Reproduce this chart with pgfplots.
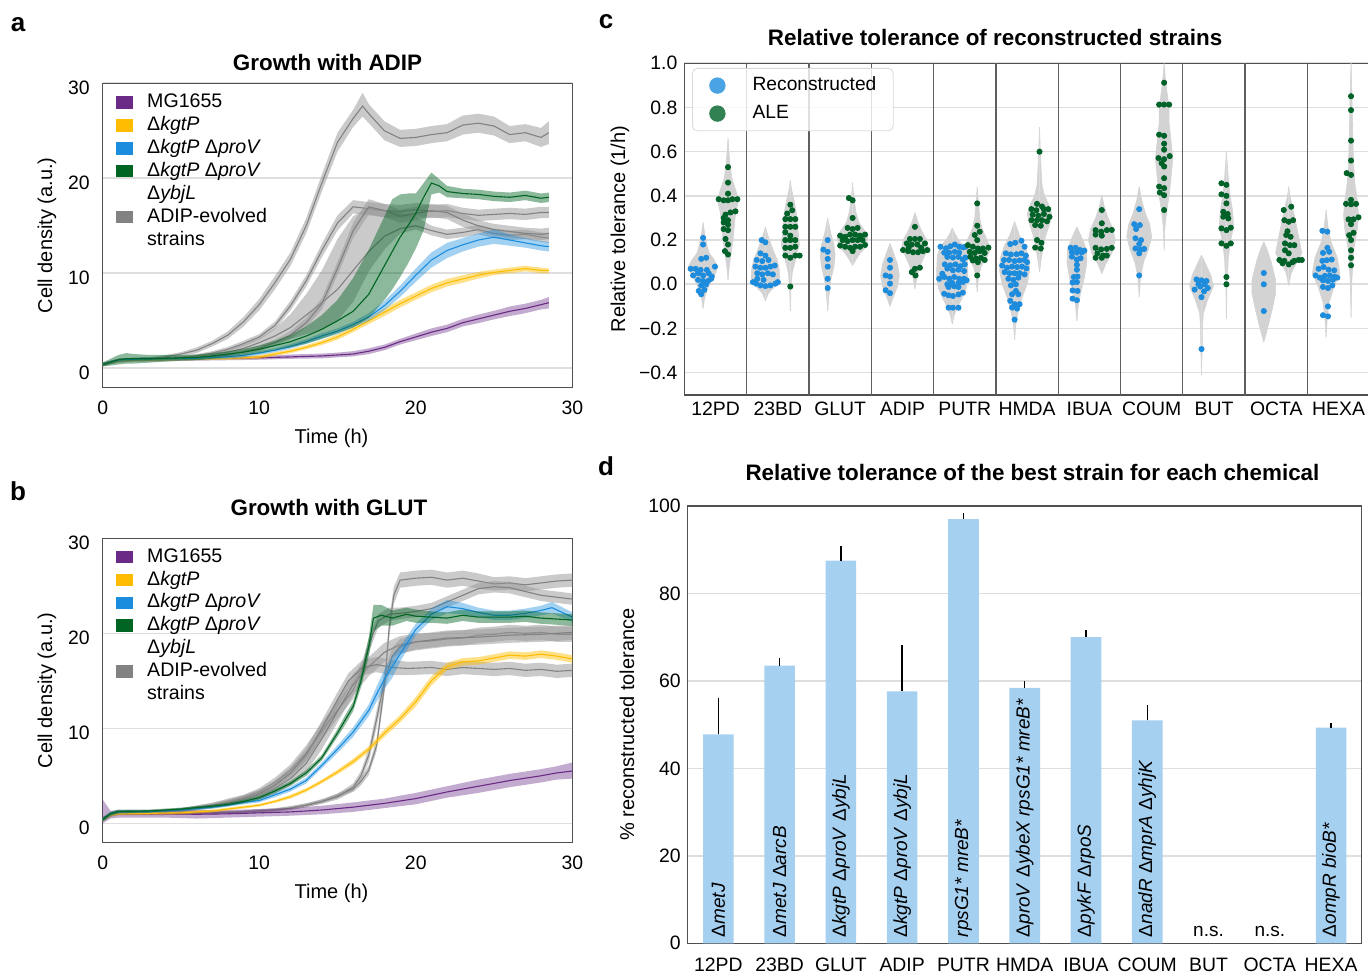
\documentclass[border=0pt]{standalone}
\usepackage{fontspec}
\setmainfont{Liberation Sans}
\usepackage{pgfplots}
\pgfplotsset{compat=1.18}
\usepackage{pgfplotstable}

\definecolor{mgp}{RGB}{106,42,134}
\definecolor{kgy}{RGB}{255,188,0}
\definecolor{kpb}{RGB}{26,141,222}
\definecolor{kpg}{RGB}{0,100,34}
\definecolor{evg}{RGB}{130,130,130}
\definecolor{bandg}{RGB}{150,150,150}
\definecolor{vgray}{RGB}{211,211,211}
\definecolor{dblue}{RGB}{30,140,220}
\definecolor{dgreen}{RGB}{0,98,40}
\definecolor{barblue}{RGB}{165,208,240}
\definecolor{gridc}{RGB}{222,222,222}
\definecolor{framec}{RGB}{80,80,80}
\definecolor{sepc}{RGB}{95,95,95}

% ---------------- panel a data (t, mean, low, high) ----------------
\pgfplotstableread{
t m lo hi
0 0.4 0.2 0.6
1 0.8 0.6 1.0
2 0.9 0.7 1.1
4 0.95 0.75 1.15
6 1.0 0.8 1.2
8 1.05 0.85 1.25
10 1.1 0.9 1.3
12 1.2 1.0 1.45
14 1.3 1.05 1.55
15 1.4 1.15 1.65
16 1.5 1.25 1.8
17 1.8 1.5 2.1
18 2.2 1.9 2.5
19 2.8 2.5 3.1
20 3.3 2.95 3.65
21 3.8 3.4 4.2
22 4.2 3.8 4.6
23 4.8 4.4 5.2
24 5.2 4.75 5.65
25 5.6 5.15 6.05
26 6.0 5.5 6.5
27 6.3 5.8 6.8
28 6.7 6.2 7.2
28.5 6.9 6.3 7.5
}\aMG
\pgfplotstableread{
t m lo hi
0 0.4 0.25 0.55
1 0.8 0.65 0.95
2 0.9 0.75 1.05
4 0.95 0.8 1.1
6 1.0 0.85 1.15
8 1.05 0.9 1.2
9 1.1 0.95 1.25
10 1.2 1.0 1.4
11 1.5 1.3 1.7
12 1.8 1.6 2.0
13 2.2 2.0 2.45
14 2.7 2.45 2.95
15 3.3 3.0 3.6
16 4.1 3.8 4.4
17 5.0 4.65 5.35
18 5.9 5.5 6.3
19 6.8 6.4 7.2
20 7.6 7.2 8.0
21 8.4 8.0 8.8
22 9.0 8.6 9.4
23 9.4 9.0 9.8
24 9.8 9.45 10.15
25 10.1 9.8 10.4
26 10.3 10.0 10.6
27 10.5 10.2 10.8
28 10.3 10.0 10.6
28.5 10.3 10.0 10.5
}\aKG
\pgfplotstableread{
t m lo hi
0 0.4 0.25 0.55
1 0.85 0.7 1.0
2 0.95 0.8 1.1
4 1.0 0.85 1.15
6 1.05 0.9 1.2
8 1.2 1.0 1.4
9 1.35 1.15 1.55
10 1.6 1.4 1.8
11 1.9 1.7 2.1
12 2.3 2.05 2.55
13 2.8 2.55 3.05
14 3.4 3.1 3.7
15 3.9 3.6 4.2
16 4.6 4.3 4.9
17 5.4 5.0 5.8
18 6.6 6.1 7.1
19 8.1 7.5 8.7
20 9.8 9.1 10.5
21 11.4 10.6 12.2
22 12.4 11.6 13.2
23 13.0 12.3 13.7
24 13.5 12.8 14.2
25 13.8 13.1 14.6
26 13.5 12.9 14.1
27 13.2 12.7 13.7
28 12.9 12.4 13.4
28.5 12.8 12.3 13.3
}\aKP
\pgfplotstableread{
t m lo hi
0 0.4 0.2 0.6
1 0.9 0.4 1.4
1.5 1.0 0.5 1.6
2 1.0 0.5 1.5
3 1.0 0.6 1.4
4 1.05 0.7 1.4
5 1.1 0.8 1.4
6 1.15 0.85 1.45
7 1.3 1.0 1.6
8 1.5 1.2 1.8
9 1.7 1.35 2.05
10 2.0 1.6 2.4
11 2.4 1.9 2.9
12 2.8 2.2 3.5
13 3.4 2.6 4.4
14 4.1 3.1 5.6
15 5.0 3.7 7.2
16 6.0 4.3 9.5
17 7.8 5.3 12.5
18 10.8 7.2 16.0
18.5 12.3 8.3 17.8
19 13.8 9.6 18.3
19.5 15.0 11.0 18.4
20 16.3 12.6 18.4
20.5 18.0 14.5 19.5
21 19.5 18.3 20.6
21.5 19.2 18.5 19.9
22 18.6 18.0 19.2
23 18.4 17.9 18.9
24 18.3 17.8 18.8
25 18.1 17.6 18.6
26 18.0 17.5 18.5
27 18.2 17.7 18.7
28 17.9 17.4 18.4
28.5 18.0 17.5 18.5
}\aKPY
\pgfplotstableread{
t m lo hi
0 0.4 0.25 0.55
1 0.85 0.7 1.0
2 0.95 0.8 1.1
3 1.0 0.85 1.15
4 1.2 1.0 1.4
5 1.5 1.3 1.7
6 1.9 1.6 2.2
7 2.6 2.3 2.9
8 3.5 3.1 3.9
9 4.9 4.4 5.4
10 6.7 6.1 7.3
11 9.0 8.3 9.7
12 11.5 10.8 12.2
13 15.0 14.2 15.8
14 19.5 18.6 20.4
15 23.8 22.8 24.8
16 26.3 25.4 27.2
16.6 27.6 26.5 29.0
17 26.8 25.8 27.8
18 25.0 24.0 26.0
19 24.2 23.3 25.1
20 24.3 23.4 25.2
21 24.6 23.7 25.5
22 24.8 23.9 25.7
23 25.6 24.6 26.6
24 25.8 24.8 26.8
25 25.5 24.5 26.5
26 24.6 23.7 25.5
27 24.8 23.9 25.7
28 24.3 23.3 25.3
28.5 24.8 23.6 26.0
}\aGa
\pgfplotstableread{
t m lo hi
0 0.4 0.25 0.55
1 0.85 0.7 1.0
2 0.95 0.8 1.1
4 1.0 0.85 1.15
6 1.3 1.1 1.5
7 1.6 1.4 1.8
8 2.0 1.75 2.25
9 2.6 2.3 2.9
10 3.3 3.0 3.6
11 4.5 4.1 4.9
12 6.6 6.1 7.1
13 9.2 8.6 9.8
14 12.4 11.7 13.1
15 15.3 14.5 16.1
16 17.0 16.3 17.7
17 16.8 16.1 17.5
18 16.6 15.9 17.3
19 16.5 15.8 17.2
20 16.7 16.0 17.4
21 16.5 15.8 17.2
22 16.6 15.9 17.3
23 16.3 15.7 16.9
24 16.1 15.5 16.7
25 16.2 15.6 16.8
26 16.3 15.7 16.9
27 16.2 15.6 16.8
28 16.4 15.8 17.0
28.5 16.4 15.8 17.0
}\aGb
\pgfplotstableread{
t m lo hi
0 0.4 0.25 0.55
1 0.85 0.7 1.0
2 0.95 0.8 1.1
4 1.0 0.85 1.15
6 1.2 1.0 1.4
8 1.7 1.4 2.0
9 2.1 1.7 2.5
10 2.7 2.2 3.2
11 3.4 2.6 4.2
12 4.3 3.1 5.7
13 5.6 3.6 7.8
14 6.9 4.1 10.3
15 8.3 5.0 13.6
16 10.3 7.0 16.0
17 12.3 10.2 17.0
18 13.9 12.5 16.7
19 14.7 14.2 16.4
20 15.0 14.6 16.0
21 14.5 14.0 15.0
22 14.1 13.6 14.6
23 14.3 13.8 14.8
24 14.6 14.1 15.1
25 14.2 13.7 14.7
26 14.0 13.5 14.5
27 14.1 13.6 14.6
28 13.8 13.3 14.3
28.5 13.7 13.2 14.2
}\aGc
\pgfplotstableread{
t m lo hi
0 0.4 0.25 0.55
1 0.85 0.7 1.0
2 0.95 0.8 1.1
4 1.0 0.85 1.15
6 1.1 0.95 1.25
8 1.4 1.2 1.6
10 2.1 1.8 2.4
11 2.7 2.4 3.0
12 3.5 3.1 3.9
13 4.8 4.3 5.3
14 6.8 6.2 7.4
15 10.5 9.8 11.2
16 14.5 13.7 15.3
17 17.0 16.2 17.8
18 16.6 15.9 17.3
19 16.0 15.3 16.7
20 16.3 15.6 17.0
21 16.6 15.9 17.3
22 16.4 15.7 17.1
23 15.6 14.9 16.3
24 15.0 14.4 15.6
25 14.6 14.0 15.2
26 14.4 13.8 15.0
27 14.2 13.6 14.8
28 14.1 13.5 14.7
28.5 14.2 13.6 14.8
}\aGd

% ---------------- panel b data ----------------
\pgfplotstableread{
t m lo hi
0 0.6 0.0 2.5
0.5 0.9 0.5 1.3
1 1.0 0.6 1.4
2 1.0 0.6 1.4
4 1.0 0.6 1.4
6 0.95 0.5 1.4
8 1.0 0.6 1.4
10 1.1 0.7 1.5
12 1.2 0.8 1.6
14 1.4 0.95 1.85
16 1.7 1.2 2.2
18 2.1 1.6 2.6
20 2.6 2.0 3.2
22 3.3 2.7 3.9
24 3.9 3.2 4.6
26 4.5 3.8 5.2
28 5.0 4.3 5.7
29 5.3 4.6 6.0
30 5.5 4.7 6.4
}\bMG
\pgfplotstableread{
t m lo hi
0 0.4 0.2 0.6
0.5 0.9 0.7 1.1
1 1.0 0.85 1.15
3 1.05 0.9 1.2
5 1.1 0.95 1.25
7 1.3 1.15 1.45
8 1.5 1.35 1.65
9 1.7 1.55 1.85
10 1.9 1.75 2.05
11 2.3 2.15 2.45
12 2.8 2.6 3.0
13 3.5 3.3 3.7
14 4.4 4.2 4.6
15 5.4 5.15 5.65
16 6.5 6.2 6.8
17 7.8 7.5 8.1
18 9.5 9.1 9.9
19 11.0 10.6 11.4
20 12.8 12.3 13.3
21 15.0 14.5 15.5
22 16.5 16.1 16.9
23 17.0 16.6 17.4
24 17.1 16.7 17.5
25 17.4 17.0 17.8
26 17.7 17.3 18.1
27 17.6 17.2 18.0
28 17.8 17.4 18.2
29 17.6 17.2 18.0
30 17.3 16.9 17.7
}\bKG
\pgfplotstableread{
t m lo hi
0 0.4 0.2 0.6
0.5 1.0 0.8 1.2
1 1.2 1.0 1.4
3 1.25 1.1 1.4
5 1.4 1.25 1.55
7 1.7 1.55 1.85
8 1.9 1.75 2.05
9 2.2 2.0 2.4
10 2.4 2.2 2.6
11 3.0 2.75 3.25
12 3.6 3.35 3.85
13 4.5 4.2 4.8
14 6.1 5.8 6.4
15 7.8 7.4 8.2
16 9.6 9.1 10.1
17 11.9 11.3 12.5
17.5 13.6 12.8 14.4
18 15.2 14.2 16.2
18.5 16.5 15.3 17.6
19 17.8 17.0 18.6
20 20.4 19.8 21.0
21 22.0 21.4 22.6
22 22.8 22.1 23.5
23 22.6 22.0 23.2
24 22.2 21.7 22.7
25 21.9 21.4 22.4
26 21.9 21.4 22.4
27 22.1 21.6 22.6
28 22.4 21.9 22.9
28.7 22.7 22.1 23.3
30 21.7 21.2 22.2
}\bKP
\pgfplotstableread{
t m lo hi
0 0.4 0.2 0.6
0.5 1.0 0.8 1.2
1 1.25 1.05 1.45
3 1.3 1.15 1.45
5 1.5 1.35 1.65
7 1.8 1.65 1.95
8 2.0 1.85 2.15
9 2.3 2.1 2.5
10 2.7 2.5 2.9
11 3.4 3.2 3.6
12 4.2 3.95 4.45
13 5.3 5.0 5.6
14 6.9 6.6 7.2
15 9.5 9.1 9.9
15.5 10.9 10.4 11.4
16 12.3 11.8 12.8
16.5 15.0 14.3 15.7
17 18.6 17.6 19.6
17.3 21.6 20.2 23.0
17.8 21.9 20.8 23.0
18.5 21.6 20.8 22.4
19.4 22.0 21.3 22.7
20 21.8 21.1 22.5
21 21.7 21.1 22.3
22 21.6 21.0 22.2
23 21.9 21.3 22.5
24 21.7 21.1 22.3
25 21.7 21.1 22.3
26 21.7 21.1 22.3
27 21.8 21.2 22.4
28 21.6 21.0 22.2
29 21.5 20.9 22.1
30 21.4 20.8 22.0
}\bKPY
\pgfplotstableread{
t m lo hi
0 0.4 0.2 0.6
0.5 0.9 0.7 1.1
1 1.0 0.85 1.15
3 1.0 0.85 1.15
5 1.05 0.9 1.2
7 1.1 0.95 1.25
9 1.2 1.05 1.35
11 1.4 1.25 1.55
12 1.6 1.4 1.8
13 1.9 1.7 2.1
14 2.3 2.1 2.5
15 2.9 2.65 3.15
16 3.6 3.3 3.9
16.5 4.4 4.0 4.8
17 5.6 5.1 6.1
17.5 8.2 7.6 8.8
18 14.5 13.6 15.4
18.3 20.5 19.5 21.5
18.6 24.0 23.1 24.9
19 25.6 24.8 26.4
20 25.8 25.0 26.6
21 25.9 25.1 26.7
22 25.6 24.8 26.4
23 25.8 25.0 26.6
24 25.5 24.7 26.3
25 25.2 24.5 25.9
26 25.3 24.6 26.0
27 25.1 24.4 25.8
28 25.3 24.6 26.0
29 25.5 24.8 26.2
30 25.6 24.9 26.3
}\bGa
\pgfplotstableread{
t m lo hi
0 0.4 0.2 0.6
0.5 0.9 0.7 1.1
1 1.1 0.95 1.25
3 1.15 1.0 1.3
5 1.4 1.2 1.6
7 1.9 1.65 2.15
8 2.3 2.0 2.6
9 2.7 2.4 3.0
10 3.3 2.9 3.7
11 4.3 3.8 4.8
12 5.6 5.0 6.2
13 7.4 6.6 8.2
14 9.7 8.8 10.6
15 11.9 11.0 12.8
16 14.0 13.1 14.9
16.6 16.4 15.6 17.2
17.1 19.2 18.4 20.0
17.6 21.3 20.6 22.0
18.3 22.0 21.3 22.7
19 22.1 21.5 22.7
20 22.3 21.7 22.9
21 22.6 22.0 23.2
22 23.3 22.7 23.9
23 24.0 23.4 24.6
24 24.7 24.1 25.3
25 24.9 24.3 25.5
26 24.8 24.2 25.4
27 24.4 23.8 25.0
28 24.0 23.4 24.6
29 23.8 23.2 24.4
30 23.6 23.0 24.2
}\bGb
\pgfplotstableread{
t m lo hi
0 0.4 0.2 0.6
0.5 0.9 0.7 1.1
1 1.1 0.95 1.25
3 1.15 1.0 1.3
5 1.35 1.15 1.55
7 1.8 1.55 2.05
8 2.1 1.8 2.4
9 2.5 2.1 2.9
10 3.0 2.5 3.5
11 3.7 3.1 4.3
12 4.7 4.0 5.4
13 6.3 5.4 7.2
14 8.9 7.8 10.0
15 11.8 10.6 13.0
16 14.6 13.5 15.7
17 16.5 15.5 17.5
18 18.0 17.0 19.0
19 18.8 17.9 19.7
20 19.1 18.2 20.0
21 19.2 18.4 20.0
22 19.4 18.6 20.2
23 19.5 18.7 20.3
24 19.8 19.0 20.6
25 19.9 19.1 20.7
26 20.1 19.3 20.9
27 20.0 19.2 20.8
28 20.1 19.3 20.9
29 19.9 19.1 20.7
30 19.9 19.1 20.7
}\bGc
\pgfplotstableread{
t m lo hi
0 0.4 0.2 0.6
0.5 0.9 0.7 1.1
1 1.1 0.95 1.25
3 1.15 1.0 1.3
5 1.4 1.2 1.6
7 1.9 1.65 2.15
8 2.2 1.9 2.5
9 2.6 2.25 2.95
10 3.1 2.7 3.5
11 4.0 3.5 4.5
12 5.3 4.7 5.9
13 7.2 6.5 7.9
14 10.0 9.2 10.8
15 13.0 12.2 13.8
15.7 15.0 14.2 15.8
16.6 16.4 15.6 17.2
17.5 16.7 15.9 17.5
18.5 16.4 15.6 17.2
19.5 16.3 15.6 17.0
21 16.4 15.7 17.1
22 16.2 15.5 16.9
23 16.4 15.7 17.1
24 16.3 15.6 17.0
25 16.2 15.5 16.9
26 16.3 15.6 17.0
27 16.1 15.4 16.8
28 16.2 15.5 16.9
29 16.0 15.3 16.7
30 16.1 15.4 16.8
}\bGd
\pgfplotstableread{
t m lo hi
0 0.4 0.2 0.6
0.5 0.9 0.7 1.1
1 1.0 0.85 1.15
3 1.0 0.85 1.15
5 1.05 0.9 1.2
7 1.1 0.95 1.25
9 1.2 1.05 1.35
11 1.4 1.2 1.6
12 1.6 1.4 1.8
13 1.9 1.7 2.1
14 2.3 2.05 2.55
15 2.8 2.5 3.1
16 3.8 3.4 4.2
16.5 5.0 4.5 5.5
17 7.2 6.5 7.9
17.5 11.0 10.1 11.9
18 15.0 14.0 16.0
18.5 17.6 16.7 18.5
19 18.6 17.8 19.4
20 19.1 18.3 19.9
21 19.3 18.5 20.1
22 19.5 18.7 20.3
24 19.6 18.8 20.4
26 19.8 19.0 20.6
28 19.9 19.1 20.7
30 20.1 19.3 20.9
}\bGe

% ---------------- panel d data ----------------
\pgfplotstableread{
i v e
0 47.8 8.4
1 63.5 1.7
2 87.5 3.3
3 57.6 10.5
4 97.0 1.5
5 58.4 1.5
6 70.0 1.7
7 51.0 3.4
10 49.3 1.0
}\dBars

% build closed band outlines: high edge forward, low edge backward
\newcommand\mkpoly[1]{%
  \pgfplotstablesort[sort key=t, sort cmp={float >}]{\polyrev}{#1}%
  \pgfplotstablecreatecol[create col/copy=lo]{y}{\polyrev}%
  \pgfplotstablecreatecol[create col/copy=hi]{y}{#1}%
  \pgfplotstablevertcat{#1}{\polyrev}%
}
\mkpoly{\aMG}\mkpoly{\aKG}\mkpoly{\aKP}\mkpoly{\aKPY}
\mkpoly{\aGa}\mkpoly{\aGb}\mkpoly{\aGc}\mkpoly{\aGd}
\mkpoly{\bMG}\mkpoly{\bKG}\mkpoly{\bKP}\mkpoly{\bKPY}
\mkpoly{\bGa}\mkpoly{\bGb}\mkpoly{\bGc}\mkpoly{\bGd}\mkpoly{\bGe}

\newcommand\growth[3]{%
  \addplot[#3, draw=none, forget plot] table[x=t,y=y]{#1};
  \addplot[#2, line width=0.55pt, forget plot] table[x=t,y=m]{#1};
}
\newcommand\violin[2]{%
  \addplot[fill=vgray, draw=vgray, line width=0.3pt, forget plot, x filter/.expression={x+(#1)}] coordinates {#2};
  \addplot[fill=vgray, draw=vgray, line width=0.3pt, forget plot, x filter/.expression={(#1)-x}] coordinates {#2};
}
\newcommand\swarm[3]{%
  \addplot[only marks, mark=*, mark size=1.3pt, color=#1, forget plot, x filter/.expression={x+(#2)}] coordinates {#3};
}

\tikzset{barlab/.style={font=\fontsize{9.5}{9.5}\selectfont, rotate=90, anchor=west, inner sep=0pt}}

\pgfplotsset{
  myax/.style={scale only axis, anchor=south west,
    axis line style={framec, line width=0.75pt},
    tick style={draw=none}, major tick length=0pt,
    tick label style={font=\fontsize{9.7}{11}\selectfont},
    label style={font=\fontsize{10}{12}\selectfont},
    major grid style={gridc, line width=0.8pt},
    /pgf/number format/assume math mode=true,
    title style={font=\bfseries\fontsize{11.2}{13}\selectfont, at={(axis description cs:0.5,1)}, anchor=base},
  },
  growthax/.style={myax, width=234.8pt, height=152pt,
    xmin=0, xmax=30, ymin=-2, ymax=30,
    xtick={0,10,20,30}, ytick={0,10,20,30}, ymajorgrids,
    xlabel={Time (h)}, ylabel={Cell density (a.u.)},
    xlabel style={at={(axis description cs:0.5,0)}, anchor=center, yshift=-25.5pt, xshift=-3pt},
    ylabel style={at={(axis description cs:-0.1186,0.5)}, anchor=center},
    xticklabel style={yshift=-3.3pt}, yticklabel style={xshift=-3pt, yshift=-2.5pt},
    legend cell align=left,
    legend image code/.code={\fill[##1] (0pt,-3.1pt) rectangle (8.6pt,3.1pt);},
    legend style={at={(0.0283,0.967)}, anchor=north west, draw=none, fill=none,
      inner sep=0pt, outer sep=0pt, row sep=2.25pt, column sep=7pt,
      font=\fontsize{9.8}{11}\selectfont,
      nodes={inner sep=0pt, text height=7.2pt, text depth=2pt}},
  },
}

\begin{document}
\begin{tikzpicture}
\useasboundingbox (0,0) rectangle (684pt,486.5pt);

\node[font=\bfseries\fontsize{13}{13}\selectfont] at (9pt,474pt) {a};
\node[font=\bfseries\fontsize{13}{13}\selectfont] at (9pt,241pt) {b};
\node[font=\bfseries\fontsize{13}{13}\selectfont] at (303pt,475.5pt) {c};
\node[font=\bfseries\fontsize{13}{13}\selectfont] at (303pt,253.5pt) {d};

% ======================= panel a =======================
\begin{axis}[growthax, at={(51.35pt,292.85pt)},
  title={Growth with ADIP}, title style={yshift=0.2pt, xshift=-5pt}]
\growth{\aGa}{evg}{fill=bandg, fill opacity=0.5}
\growth{\aGb}{evg}{fill=bandg, fill opacity=0.5}
\growth{\aGc}{evg}{fill=bandg, fill opacity=0.5}
\growth{\aGd}{evg}{fill=bandg, fill opacity=0.5}
\growth{\aMG}{mgp}{fill=mgp, fill opacity=0.4}
\growth{\aKG}{kgy}{fill=kgy, fill opacity=0.45}
\growth{\aKP}{kpb}{fill=kpb, fill opacity=0.4}
\growth{\aKPY}{kpg}{fill=kpg, fill opacity=0.45}
\addlegendimage{fill=mgp, draw=none}\addlegendentry{MG1655}
\addlegendimage{fill=kgy, draw=none}\addlegendentry{Δ\textit{kgtP}}
\addlegendimage{fill=kpb, draw=none}\addlegendentry{Δ\textit{kgtP} Δ\textit{proV}}
\addlegendimage{fill=kpg, draw=none}\addlegendentry{Δ\textit{kgtP} Δ\textit{proV}}
\addlegendimage{draw=none, opacity=0}\addlegendentry{Δ\textit{ybjL}}
\addlegendimage{fill=evg, draw=none}\addlegendentry{ADIP-evolved}
\addlegendimage{draw=none, opacity=0}\addlegendentry{strains}
\end{axis}

% ======================= panel b =======================
\begin{axis}[growthax, at={(51.35pt,65.35pt)},
  title={Growth with GLUT}, title style={yshift=5.2pt, xshift=-4.3pt},
  legend style={at={(0.0283,0.969)}}]
\growth{\bGa}{evg}{fill=bandg, fill opacity=0.5}
\growth{\bGb}{evg}{fill=bandg, fill opacity=0.5}
\growth{\bGc}{evg}{fill=bandg, fill opacity=0.5}
\growth{\bGd}{evg}{fill=bandg, fill opacity=0.5}
\growth{\bGe}{evg}{fill=bandg, fill opacity=0.5}
\growth{\bMG}{mgp}{fill=mgp, fill opacity=0.4}
\growth{\bKG}{kgy}{fill=kgy, fill opacity=0.45}
\growth{\bKP}{kpb}{fill=kpb, fill opacity=0.4}
\growth{\bKPY}{kpg}{fill=kpg, fill opacity=0.45}
\addlegendimage{fill=mgp, draw=none}\addlegendentry{MG1655}
\addlegendimage{fill=kgy, draw=none}\addlegendentry{Δ\textit{kgtP}}
\addlegendimage{fill=kpb, draw=none}\addlegendentry{Δ\textit{kgtP} Δ\textit{proV}}
\addlegendimage{fill=kpg, draw=none}\addlegendentry{Δ\textit{kgtP} Δ\textit{proV}}
\addlegendimage{draw=none, opacity=0}\addlegendentry{Δ\textit{ybjL}}
\addlegendimage{fill=evg, draw=none}\addlegendentry{ADIP-evolved}
\addlegendimage{draw=none, opacity=0}\addlegendentry{strains}
\end{axis}

% ======================= panel c =======================
\begin{axis}[myax, at={(342.2pt,289.1pt)}, width=342.65pt, height=165.75pt,
  xmin=-0.5, xmax=10.5, ymin=-0.5, ymax=1.0,
  xtick={0,1,2,3,4,5,6,7,8,9,10},
  xticklabels={12PD,23BD,GLUT,ADIP,PUTR,HMDA,IBUA,COUM,BUT,OCTA,HEXA},
  ytick={-0.4,-0.2,0,0.2,0.4,0.6,0.8,1.0},
  yticklabels={−0.4,−0.2,0.0,0.2,0.4,0.6,0.8,1.0},
  ymajorgrids,
  extra x ticks={0.5,1.5,2.5,3.5,4.5,5.5,6.5,7.5,8.5,9.5},
  extra x tick labels={},
  extra x tick style={grid=major, major grid style={sepc, line width=0.65pt}},
  ylabel={Relative tolerance (1/h)},
  ylabel style={at={(axis description cs:-0.094,0.5)}, anchor=center},
  title={Relative tolerance of reconstructed strains},
  title style={yshift=3.1pt, xshift=-16pt},
  legend image code/.code={\fill[#1] (0pt,0pt) circle (4.1pt);},
  legend cell align=left,
  legend style={at={(0.0111,0.9858)}, anchor=north west, draw=black!15, fill=white,
    fill opacity=0.8, text opacity=1, rounded corners=2.5pt,
    inner xsep=8.4pt, inner ysep=4pt, row sep=4.8pt, column sep=13.5pt,
    font=\fontsize{9.6}{11}\selectfont,
    nodes={inner sep=0pt, text height=7.2pt, text depth=2pt}},
]
\violin{-0.2}{(0,-0.11)(0.02,-0.07)(0.06,-0.03)(0.12,0.01)(0.2,0.05)(0.235,0.08)(0.18,0.11)(0.1,0.14)(0.06,0.18)(0.03,0.22)(0,0.28)}
\violin{0.2}{(0,0.02)(0.02,0.08)(0.05,0.14)(0.08,0.2)(0.1,0.26)(0.12,0.32)(0.17,0.38)(0.12,0.43)(0.06,0.48)(0.03,0.55)(0.015,0.6)(0,0.66)}
\violin{0.8}{(0,-0.075)(0.05,-0.04)(0.15,-0.01)(0.23,0.03)(0.22,0.07)(0.19,0.11)(0.13,0.15)(0.08,0.19)(0.03,0.23)(0,0.26)}
\violin{1.2}{(0,-0.12)(0.01,-0.03)(0.03,0.05)(0.09,0.12)(0.145,0.18)(0.12,0.25)(0.1,0.32)(0.06,0.38)(0.02,0.43)(0,0.47)}
\violin{1.8}{(0,-0.12)(0.02,-0.05)(0.05,0.02)(0.1,0.08)(0.12,0.13)(0.1,0.18)(0.05,0.23)(0.02,0.27)(0,0.3)}
\violin{2.2}{(0,0.085)(0.05,0.11)(0.12,0.14)(0.22,0.17)(0.245,0.21)(0.2,0.24)(0.1,0.28)(0.05,0.33)(0.03,0.38)(0.01,0.42)(0,0.46)}
\violin{2.8}{(0,-0.1)(0.05,-0.06)(0.12,-0.01)(0.15,0.04)(0.12,0.09)(0.06,0.14)(0,0.185)}
\violin{3.2}{(0,-0.02)(0.03,0.03)(0.08,0.08)(0.14,0.12)(0.215,0.16)(0.19,0.2)(0.11,0.24)(0.05,0.28)(0,0.325)}
\violin{3.8}{(0,-0.18)(0.03,-0.14)(0.09,-0.1)(0.16,-0.06)(0.22,-0.02)(0.25,0.02)(0.25,0.07)(0.24,0.13)(0.2,0.17)(0.1,0.2)(0.04,0.23)(0,0.255)}
\violin{4.2}{(0,-0.035)(0.02,0.03)(0.06,0.08)(0.15,0.12)(0.215,0.16)(0.16,0.2)(0.08,0.25)(0.04,0.3)(0.02,0.37)(0,0.44)}
\violin{4.8}{(0,-0.25)(0.02,-0.18)(0.06,-0.12)(0.12,-0.06)(0.2,0.0)(0.24,0.06)(0.23,0.12)(0.17,0.17)(0.08,0.22)(0.03,0.26)(0,0.285)}
\violin{5.2}{(0,0.055)(0.02,0.1)(0.06,0.17)(0.1,0.22)(0.17,0.28)(0.195,0.32)(0.15,0.36)(0.08,0.4)(0.04,0.45)(0.02,0.55)(0.01,0.63)(0,0.71)}
\violin{5.8}{(0,-0.165)(0.02,-0.1)(0.06,-0.04)(0.12,0.03)(0.16,0.1)(0.15,0.16)(0.08,0.21)(0,0.26)}
\violin{6.2}{(0,0.048)(0.06,0.09)(0.16,0.14)(0.215,0.2)(0.18,0.25)(0.1,0.3)(0.04,0.35)(0,0.405)}
\violin{6.8}{(0,-0.058)(0.02,0.03)(0.07,0.1)(0.15,0.16)(0.2,0.215)(0.17,0.27)(0.1,0.32)(0.04,0.38)(0,0.442)}
\violin{7.2}{(0,0.154)(0.01,0.25)(0.04,0.33)(0.08,0.4)(0.11,0.48)(0.14,0.57)(0.11,0.65)(0.08,0.73)(0.08,0.8)(0.05,0.86)(0.02,0.93)(0,1.0)}
\violin{7.8}{(0,-0.41)(0.01,-0.3)(0.015,-0.2)(0.03,-0.13)(0.1,-0.07)(0.19,-0.01)(0.15,0.04)(0.07,0.09)(0,0.132)}
\violin{8.2}{(0,-0.156)(0.01,0.0)(0.03,0.12)(0.07,0.2)(0.115,0.26)(0.1,0.33)(0.06,0.4)(0.03,0.48)(0,0.6)}
\violin{8.8}{(0,-0.262)(0.06,-0.2)(0.13,-0.12)(0.19,-0.04)(0.19,0.02)(0.12,0.1)(0.05,0.16)(0,0.192)}
\violin{9.2}{(0,-0.005)(0.04,0.05)(0.13,0.1)(0.21,0.14)(0.17,0.2)(0.12,0.27)(0.06,0.35)(0.02,0.4)(0,0.442)}
\violin{9.8}{(0,-0.24)(0.02,-0.15)(0.05,-0.08)(0.13,-0.01)(0.22,0.05)(0.18,0.12)(0.08,0.19)(0.03,0.26)(0,0.336)}
\violin{10.2}{(0,-0.15)(0.01,0.0)(0.04,0.15)(0.1,0.25)(0.12,0.31)(0.1,0.38)(0.06,0.46)(0.04,0.55)(0.025,0.7)(0.015,0.85)(0,1.0)}
\swarm{dblue}{-0.2}{(0,0.21)(0,0.18)(-0.03,0.115)(0.05,0.12)(-0.2,0.07)(-0.12,0.07)(-0.04,0.065)(0.06,0.065)(0.19,0.08)(-0.16,0.04)(-0.08,0.05)(0,0.04)(0.09,0.05)(0.14,0.035)(-0.08,0.02)(0,0.015)(0.08,0.015)(0.13,0.025)(-0.03,-0.005)(0.05,0.0)(-0.07,-0.03)(0.02,-0.025)(-0.03,-0.045)}
\swarm{dgreen}{0.2}{(0,0.53)(0,0.46)(0,0.41)(-0.15,0.385)(-0.07,0.38)(0,0.38)(0.07,0.385)(0.15,0.385)(0.12,0.33)(0.04,0.325)(-0.04,0.315)(-0.07,0.30)(0.0,0.29)(-0.07,0.28)(0.0,0.27)(-0.07,0.25)(0.0,0.245)(-0.04,0.205)(0.0,0.18)(-0.05,0.15)(0.0,0.135)}
\swarm{dblue}{0.8}{(-0.06,0.2)(0,0.19)(-0.08,0.14)(0,0.13)(-0.14,0.11)(-0.05,0.105)(0.05,0.11)(-0.16,0.08)(-0.08,0.075)(0,0.075)(0.08,0.08)(0.15,0.085)(-0.13,0.05)(-0.05,0.045)(0.04,0.05)(0.12,0.045)(-0.13,0.025)(-0.03,0.02)(-0.2,0.01)(-0.15,0.003)(-0.08,-0.005)(0,-0.008)(0.08,-0.005)(0.16,0.003)(0.2,0.01)}
\swarm{dgreen}{1.2}{(0,0.36)(0.03,0.335)(-0.05,0.32)(-0.08,0.295)(0,0.295)(0.08,0.295)(-0.08,0.26)(0,0.26)(0.08,0.26)(-0.08,0.235)(0,0.22)(-0.08,0.2)(0,0.2)(0.08,0.2)(-0.08,0.165)(0,0.165)(0.08,0.17)(-0.08,0.13)(0,0.12)(0.08,0.13)(0.15,0.13)(0,-0.01)}
\swarm{dblue}{1.8}{(0,0.2)(-0.07,0.157)(0,0.147)(0,0.115)(0,0.08)(0,0.025)(0,-0.017)}
\swarm{dgreen}{2.2}{(-0.06,0.39)(0,0.38)(0,0.3)(-0.08,0.255)(0,0.25)(0.08,0.255)(-0.2,0.22)(-0.12,0.215)(-0.04,0.225)(0.04,0.225)(0.12,0.22)(0.2,0.225)(-0.16,0.2)(-0.08,0.195)(0,0.2)(0.08,0.2)(0.16,0.2)(-0.2,0.175)(-0.12,0.17)(-0.04,0.165)(0.04,0.17)(0.12,0.17)(0.2,0.178)(0,0.15)}
\swarm{dblue}{2.8}{(0,0.11)(0,0.075)(-0.07,0.04)(0,0.035)(0,0.003)(-0.07,-0.027)(0,-0.04)}
\swarm{dgreen}{3.2}{(0,0.26)(-0.08,0.205)(0,0.205)(0.08,0.205)(-0.13,0.185)(0.16,0.185)(-0.05,0.18)(0.04,0.18)(0.1,0.165)(-0.1,0.165)(-0.19,0.155)(-0.11,0.15)(-0.03,0.145)(0.05,0.145)(0.13,0.15)(0.2,0.155)(0,0.07)(0.08,0.075)(-0.05,0.055)(0.01,0.04)}
\swarm{dblue}{3.8}{(-0.19,0.17)(-0.1,0.163)(-0.03,0.172)(0.04,0.18)(0.11,0.17)(0.17,0.167)(0.21,0.17)(-0.13,0.143)(-0.05,0.143)(0.04,0.147)(0.11,0.143)(-0.08,0.124)(0.01,0.121)(0.1,0.124)(0.17,0.112)(0.21,0.121)(-0.12,0.09)(-0.03,0.086)(0.05,0.09)(0.13,0.082)(0.2,0.09)(-0.16,0.048)(-0.08,0.071)(0.01,0.063)(0.1,0.066)(0.19,0.06)(-0.21,0.025)(-0.13,0.033)(-0.05,0.025)(0.03,0.033)(0.11,0.025)(0.19,0.025)(0.23,0.018)(-0.08,0.0)(0.0,0.006)(0.1,0.006)(0.17,0.01)(-0.06,-0.012)(0.03,-0.009)(0.1,-0.012)(-0.13,-0.043)(-0.06,-0.05)(0.01,-0.053)(0.1,-0.046)(0.17,-0.038)(-0.06,-0.106)(0.01,-0.106)(0.1,-0.106)}
\swarm{dgreen}{4.2}{(0,0.366)(0,0.265)(0.04,0.238)(-0.04,0.223)(0,0.2)(-0.15,0.177)(-0.07,0.17)(0.01,0.162)(0.09,0.162)(0.18,0.166)(-0.12,0.147)(-0.04,0.142)(0.04,0.15)(0.12,0.142)(-0.11,0.124)(-0.02,0.117)(0.06,0.12)(-0.07,0.108)(0.01,0.1)(0.12,0.11)(0,0.04)}
\swarm{dblue}{4.8}{(-0.07,0.182)(0.01,0.188)(0.11,0.197)(0.16,0.17)(-0.14,0.14)(-0.06,0.135)(0.03,0.136)(0.11,0.14)(0.18,0.13)(-0.17,0.11)(-0.09,0.11)(0.0,0.105)(0.08,0.108)(0.16,0.11)(0.2,0.1)(-0.2,0.085)(-0.12,0.075)(-0.04,0.08)(0.04,0.078)(0.12,0.08)(0.19,0.072)(-0.16,0.055)(-0.08,0.05)(0.0,0.05)(0.08,0.05)(0.16,0.045)(-0.1,0.025)(-0.02,0.02)(0.06,0.03)(-0.06,-0.005)(0.02,0.0)(0.02,-0.03)(-0.04,-0.045)(0.06,-0.045)(-0.07,-0.075)(0.0,-0.09)(0.08,-0.09)(-0.04,-0.105)(0.04,-0.11)(0.0,-0.16)}
\swarm{dgreen}{5.2}{(0,0.6)(-0.04,0.364)(0.04,0.352)(-0.13,0.34)(-0.05,0.335)(0.07,0.34)(0.14,0.34)(-0.11,0.315)(-0.02,0.31)(0.07,0.318)(0.16,0.305)(-0.13,0.29)(-0.04,0.29)(0.04,0.29)(0.12,0.285)(-0.07,0.268)(0.02,0.265)(-0.04,0.2)(0.03,0.188)(-0.07,0.166)(0.02,0.162)}
\swarm{dblue}{5.8}{(-0.1,0.165)(-0.02,0.165)(0.05,0.155)(0.12,0.152)(-0.08,0.145)(0.0,0.143)(0.08,0.145)(-0.08,0.125)(0.0,0.112)(0.06,0.118)(0.0,0.088)(0.0,0.066)(-0.05,0.033)(0.01,0.035)(-0.07,0.008)(0.0,0.01)(-0.07,-0.028)(0.01,-0.03)(-0.07,-0.065)(0.0,-0.072)}
\swarm{dgreen}{6.2}{(0,0.336)(0,0.276)(-0.1,0.245)(-0.01,0.238)(0.08,0.245)(0.16,0.246)(-0.1,0.225)(0.0,0.22)(-0.1,0.165)(-0.01,0.158)(0.08,0.16)(0.16,0.165)(-0.07,0.14)(0.02,0.13)(-0.1,0.12)(0.0,0.12)(0.08,0.13)}
\swarm{dblue}{6.8}{(0,0.34)(-0.08,0.272)(0.01,0.268)(-0.05,0.25)(-0.06,0.208)(0.03,0.2)(0.0,0.182)(-0.06,0.162)(0.02,0.157)(0.08,0.16)(0.0,0.14)(0.0,0.04)}
\swarm{dgreen}{7.2}{(0,0.912)(-0.08,0.813)(0,0.813)(0.08,0.813)(-0.08,0.677)(0,0.672)(0,0.636)(0,0.609)(-0.09,0.571)(0,0.566)(0.09,0.58)(-0.04,0.548)(0,0.533)(0,0.48)(-0.08,0.442)(0,0.435)(-0.07,0.415)(0,0.403)(0,0.336)}
\swarm{dblue}{7.8}{(-0.08,0.022)(0,0.018)(0.08,0.015)(-0.05,0.0)(0.05,0.0)(-0.11,-0.024)(-0.02,-0.01)(0.04,-0.032)(0.1,-0.017)(0,-0.058)(0,-0.293)}
\swarm{dgreen}{8.2}{(-0.08,0.457)(0,0.45)(-0.08,0.407)(0,0.4)(0,0.366)(-0.05,0.328)(0.02,0.318)(-0.05,0.306)(0.03,0.298)(-0.08,0.253)(0,0.245)(0.07,0.256)(-0.08,0.185)(0,0.174)(0.07,0.185)(0,0.033)(0,0.0)}
\swarm{dblue}{8.8}{(0,0.051)(0,0.0)(0,-0.121)}
\swarm{dgreen}{9.2}{(-0.08,0.336)(0.04,0.351)(-0.07,0.29)(0,0.283)(0.07,0.29)(-0.02,0.24)(-0.04,0.223)(0.03,0.215)(-0.06,0.185)(0.02,0.177)(0.09,0.177)(-0.06,0.154)(0,0.14)(-0.15,0.11)(-0.07,0.106)(0,0.09)(0.09,0.106)(0.16,0.11)(0.21,0.11)(-0.1,0.095)(0.06,0.1)}
\swarm{dblue}{9.8}{(-0.06,0.242)(0.02,0.238)(0.02,0.165)(-0.05,0.142)(0.05,0.147)(-0.06,0.106)(0.01,0.109)(0.09,0.112)(-0.12,0.07)(-0.04,0.078)(0.04,0.066)(0.13,0.063)(-0.17,0.04)(-0.1,0.03)(-0.02,0.038)(0.06,0.04)(0.14,0.034)(0.18,0.03)(-0.05,0.018)(0.03,0.015)(0.11,0.021)(-0.05,-0.012)(0.03,-0.017)(0.1,-0.005)(0.03,-0.1)(-0.05,-0.14)(0.03,-0.145)}
\swarm{dgreen}{10.2}{(0,0.851)(0,0.788)(0,0.65)(0,0.56)(-0.07,0.503)(0,0.495)(0,0.382)(-0.08,0.364)(0,0.362)(0.08,0.364)(-0.04,0.294)(0.04,0.294)(0.12,0.303)(0,0.272)(-0.03,0.222)(0.04,0.233)(0,0.2)(0,0.154)(0,0.12)(0,0.086)}
\addlegendimage{fill=dblue, draw=none}\addlegendentry{Reconstructed}
\addlegendimage{fill=dgreen, draw=none}\addlegendentry{ALE}
\end{axis}

% ======================= panel d =======================
\begin{axis}[myax, at={(343.85pt,14.85pt)}, width=337pt, height=218.65pt,
  xmin=-0.5, xmax=10.5, ymin=0, ymax=100,
  xtick={0,1,2,3,4,5,6,7,8,9,10},
  xticklabels={12PD,23BD,GLUT,ADIP,PUTR,HMDA,IBUA,COUM,BUT,OCTA,HEXA},
  xticklabel style={yshift=-3.8pt},
  ytick={0,20,40,60,80,100}, ymajorgrids,
  ylabel={\% reconstructed tolerance},
  ylabel style={at={(axis description cs:-0.090,0.5)}, anchor=center},
  title={Relative tolerance of the best strain for each chemical},
  title style={yshift=6.5pt, xshift=3.9pt},
]
\addplot[ybar, bar width=0.5, fill=barblue, draw=none, forget plot,
  error bars/.cd, y dir=plus, y explicit, error mark=none,
  error bar style={black, line width=0.7pt}]
  table[x=i, y=v, y error=e]{\dBars};
\node[barlab] at (axis cs:0,1.3) {Δ\textit{metJ}};
\node[barlab] at (axis cs:1,1.3) {Δ\textit{metJ} Δ\textit{arcB}};
\node[barlab] at (axis cs:2,1.3) {Δ\textit{kgtP} Δ\textit{proV} Δ\textit{ybjL}};
\node[barlab] at (axis cs:3,1.3) {Δ\textit{kgtP} Δ\textit{proV} Δ\textit{ybjL}};
\node[barlab] at (axis cs:4,1.3) {\textit{rpsG1* mreB*}};
\node[barlab] at (axis cs:5,1.3) {Δ\textit{proV} Δ\textit{ybeX rpsG1* mreB*}};
\node[barlab] at (axis cs:6,1.3) {Δ\textit{pykF} Δ\textit{rpoS}};
\node[barlab] at (axis cs:7,1.3) {Δ\textit{nadR} Δ\textit{mprA} Δ\textit{yhjK}};
\node[barlab] at (axis cs:10,1.3) {Δ\textit{ompR bioB*}};
\node[font=\fontsize{9.5}{10}\selectfont, anchor=base] at (axis cs:8,1.5) {n.s.};
\node[font=\fontsize{9.5}{10}\selectfont, anchor=base] at (axis cs:9,1.5) {n.s.};
\end{axis}
\end{tikzpicture}
\end{document}
